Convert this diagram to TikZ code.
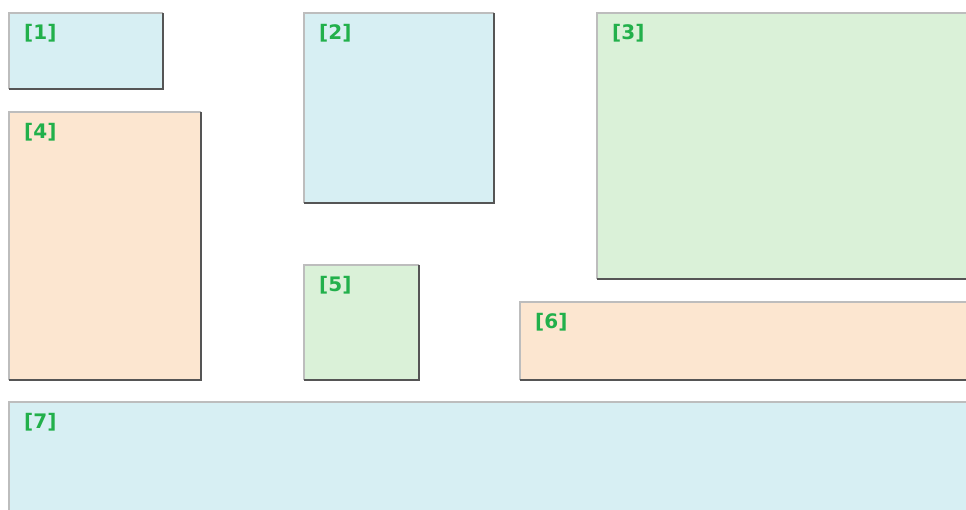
\documentclass[tikz,border=0pt]{standalone}
\usepackage{fontspec}
\setmainfont{DejaVu Sans}
\definecolor{cblue}{HTML}{D7EFF3}
\definecolor{cgreen}{HTML}{DAF1D8}
\definecolor{corange}{HTML}{FCE6D0}
\definecolor{lblgreen}{HTML}{22B04B}
\definecolor{litegray}{HTML}{BDBDBD}
\definecolor{darkgray}{HTML}{555555}
\tikzset{
  panel/.style={inner sep=0pt, outer sep=0pt, anchor=north west, draw=none},
  liteedge/.style={draw=litegray, line width=1.4pt},
  darkedge/.style={draw=darkgray, line width=1.8pt},
  lbl/.style={font=\bfseries\fontsize{20}{20}\selectfont, text=lblgreen, inner sep=0pt, anchor=north west}
}
\newcommand\mypanel[7]{%
  \node[panel, fill=#6, minimum width=#4pt, minimum height=#5pt] (#1) at (#2,#3) {};
  \draw[liteedge] (#1.south west) -- (#1.north west) -- (#1.north east);
  \draw[darkedge] (#1.north east) -- (#1.south east) -- (#1.south west);
  \node[lbl] (#1lbl) at ([shift={(15pt,-11pt)}]#1.north west) {[#7]};
}
\begin{document}
\begin{tikzpicture}[x=1pt,y=-1pt]
\useasboundingbox (0,0) rectangle (966,510);
\fill[white] (0,0) rectangle (966,510);
\clip (0,0) rectangle (966,510);
\mypanel{p1}{9}{13}{154}{76}{cblue}{1}
\mypanel{p2}{304}{13}{190}{190}{cblue}{2}
\mypanel{p3}{597}{13}{380}{266}{cgreen}{3}
\mypanel{p4}{9}{112}{192}{268}{corange}{4}
\mypanel{p5}{304}{265}{115}{115}{cgreen}{5}
\mypanel{p6}{520}{302}{460}{78}{corange}{6}
\mypanel{p7}{9}{402}{970}{130}{cblue}{7}
\end{tikzpicture}
\end{document}
